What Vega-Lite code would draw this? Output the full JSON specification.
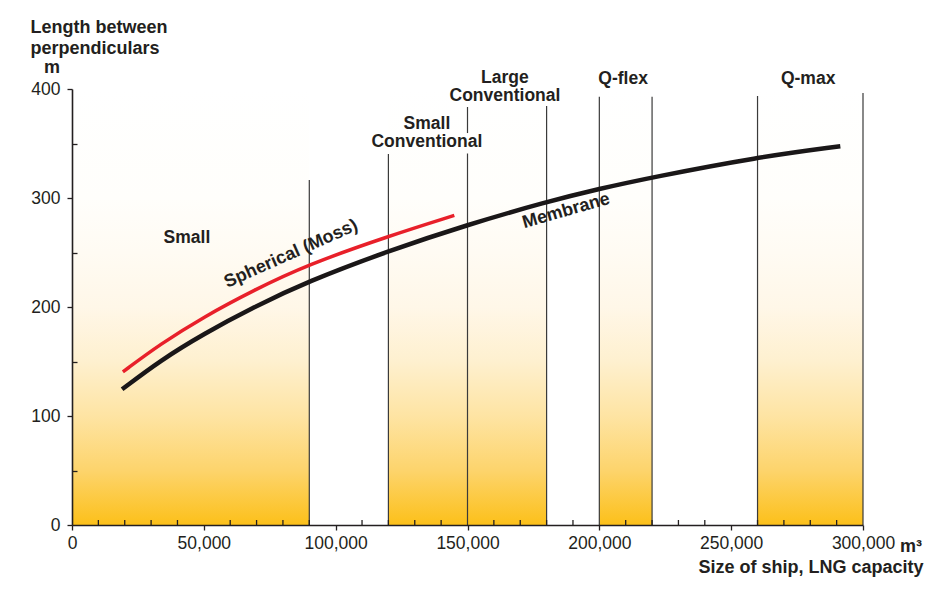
{
  "$schema": "https://vega.github.io/schema/vega-lite/v6.json",
  "width": 791,
  "height": 436,
  "autosize": {"type": "none"},
  "padding": {"left": 72, "top": 89, "right": 71, "bottom": 72},
  "background": "white",
  "config": {
    "view": {"stroke": null},
    "font": "Liberation Sans",
    "text": {"font": "Liberation Sans", "fontSize": 18, "fontWeight": "bold", "color": "#231f20"}
  },
  "datasets": {
    "bands": [
      {"start": 0, "end": 90000, "low": 0, "high": 400},
      {"start": 120000, "end": 180000, "low": 0, "high": 400},
      {"start": 200000, "end": 220000, "low": 0, "high": 400},
      {"start": 260000, "end": 300000, "low": 0, "high": 400}
    ],
    "dividers": [
      {"x": 90000, "bottom": 0, "top": 316.5},
      {"x": 120000, "bottom": 0, "top": 340.4},
      {"x": 150000, "bottom": 0, "top": 340.8},
      {"x": 150000, "bottom": 359.6, "top": 383.5},
      {"x": 180000, "bottom": 0, "top": 384.4},
      {"x": 200000, "bottom": 0, "top": 393},
      {"x": 220000, "bottom": 0, "top": 393},
      {"x": 260000, "bottom": 0, "top": 393.6},
      {"x": 300000, "bottom": 0, "top": 396.3}
    ],
    "minorTicks": [
      {"x": 10000, "y": 0}, {"x": 20000, "y": 0}, {"x": 30000, "y": 0}, {"x": 40000, "y": 0},
      {"x": 60000, "y": 0}, {"x": 70000, "y": 0}, {"x": 80000, "y": 0}, {"x": 90000, "y": 0},
      {"x": 110000, "y": 0}, {"x": 120000, "y": 0}, {"x": 130000, "y": 0}, {"x": 140000, "y": 0},
      {"x": 160000, "y": 0}, {"x": 170000, "y": 0}, {"x": 180000, "y": 0}, {"x": 190000, "y": 0},
      {"x": 210000, "y": 0}, {"x": 220000, "y": 0}, {"x": 230000, "y": 0}, {"x": 240000, "y": 0},
      {"x": 260000, "y": 0}, {"x": 270000, "y": 0}, {"x": 280000, "y": 0}, {"x": 290000, "y": 0}
    ],
    "curves": [
      {"series": "Membrane", "capacity": 19000, "length": 124.5},
      {"series": "Membrane", "capacity": 33500, "length": 151},
      {"series": "Membrane", "capacity": 50000, "length": 175.5},
      {"series": "Membrane", "capacity": 69000, "length": 200},
      {"series": "Membrane", "capacity": 89000, "length": 223},
      {"series": "Membrane", "capacity": 120000, "length": 251.5},
      {"series": "Membrane", "capacity": 150000, "length": 275.5},
      {"series": "Membrane", "capacity": 180000, "length": 296.5},
      {"series": "Membrane", "capacity": 200000, "length": 308.5},
      {"series": "Membrane", "capacity": 220000, "length": 319},
      {"series": "Membrane", "capacity": 260000, "length": 337.5},
      {"series": "Membrane", "capacity": 291400, "length": 347.5},
      {"series": "Spherical (Moss)", "capacity": 19300, "length": 140.5},
      {"series": "Spherical (Moss)", "capacity": 33500, "length": 166},
      {"series": "Spherical (Moss)", "capacity": 50000, "length": 191},
      {"series": "Spherical (Moss)", "capacity": 69000, "length": 215.5},
      {"series": "Spherical (Moss)", "capacity": 89000, "length": 238.5},
      {"series": "Spherical (Moss)", "capacity": 120000, "length": 265},
      {"series": "Spherical (Moss)", "capacity": 145000, "length": 284}
    ],
    "labels": [
      {"label": "Small", "x": 43600, "y": 258.7},
      {"label": "Small\nConventional", "x": 134600, "y": 363.3},
      {"label": "Large\nConventional", "x": 164200, "y": 405.5},
      {"label": "Q-flex", "x": 209000, "y": 404.6},
      {"label": "Q-max", "x": 279200, "y": 404.6}
    ]
  },
  "layer": [
    {
      "data": {"name": "bands"},
      "mark": {
        "type": "rect",
        "fill": {
          "gradient": "linear",
          "x1": 0, "y1": 1, "x2": 0, "y2": 0,
          "stops": [
            {"offset": 0, "color": "#fcc01a"},
            {"offset": 0.125, "color": "#fdd46c"},
            {"offset": 0.25, "color": "#fee4a3"},
            {"offset": 0.375, "color": "#fef0cf"},
            {"offset": 0.5, "color": "#fff7e8"},
            {"offset": 0.625, "color": "#fffbf3"},
            {"offset": 0.75, "color": "#fffefb"},
            {"offset": 1, "color": "#ffffff"}
          ]
        }
      },
      "encoding": {
        "x": {
          "field": "start", "type": "quantitative",
          "scale": {"domain": [0, 300000], "nice": false, "zero": true},
          "axis": {
            "zindex": 1,
            "title": "Size of ship, LNG capacity",
            "titleFont": "Liberation Sans",
            "titleFontSize": 18,
            "titleFontWeight": "bold",
            "titleColor": "#231f20",
            "titleAnchor": "end",
            "titleAlign": "right",
            "titleBaseline": "alphabetic",
            "titleX": 851,
            "titleY": 47,
            "values": [0, 50000, 100000, 150000, 200000, 250000, 300000],
            "format": ",d",
            "labelFont": "Liberation Sans",
            "labelFontSize": 17.5,
            "labelColor": "#231f20",
            "labelPadding": 4,
            "labelFlush": false,
            "labelOverlap": false,
            "labelBound": false,
            "tickSize": 5,
            "tickColor": "#231f20",
            "tickWidth": 1.3,
            "domainColor": "#231f20",
            "domainWidth": 1.6,
            "grid": false
          }
        },
        "x2": {"field": "end"},
        "y": {
          "field": "low", "type": "quantitative",
          "scale": {"domain": [0, 400], "nice": false},
          "axis": {
            "zindex": 1,
            "title": ["Length between", "perpendiculars"],
            "titleFont": "Liberation Sans",
            "titleFontSize": 18,
            "titleFontWeight": "bold",
            "titleColor": "#231f20",
            "titleAngle": 0,
            "titleAlign": "left",
            "titleBaseline": "alphabetic",
            "titleLineHeight": 21,
            "titleX": -42,
            "titleY": -57,
            "values": [0, 50, 100, 150, 200, 250, 300, 350, 400],
            "labelExpr": "datum.value % 100 === 0 ? datum.label : ''",
            "labelFont": "Liberation Sans",
            "labelFontSize": 17.5,
            "labelColor": "#231f20",
            "labelPadding": 7,
            "labelFlush": false,
            "labelOverlap": false,
            "tickSize": {"condition": {"test": "datum.value % 100 === 0", "value": 5}, "value": -5},
            "tickColor": "#231f20",
            "tickWidth": 1.3,
            "domainColor": "#231f20",
            "domainWidth": 1.6,
            "grid": false
          }
        },
        "y2": {"field": "high"}
      }
    },
    {
      "data": {"name": "dividers"},
      "mark": {"type": "rule", "color": "#3a3a3a", "strokeWidth": 1.2},
      "encoding": {
        "x": {"field": "x", "type": "quantitative"},
        "y": {"field": "bottom", "type": "quantitative"},
        "y2": {"field": "top"}
      }
    },
    {
      "data": {"name": "minorTicks"},
      "mark": {"type": "tick", "orient": "vertical", "size": 5, "thickness": 1.3, "color": "#231f20", "yOffset": -2.5, "opacity": 1},
      "encoding": {
        "x": {"field": "x", "type": "quantitative"},
        "y": {"field": "y", "type": "quantitative"}
      }
    },
    {
      "data": {"name": "curves"},
      "mark": {"type": "line", "interpolate": "basis", "strokeCap": "butt"},
      "encoding": {
        "x": {"field": "capacity", "type": "quantitative"},
        "y": {"field": "length", "type": "quantitative"},
        "color": {
          "field": "series", "type": "nominal",
          "scale": {"domain": ["Membrane", "Spherical (Moss)"], "range": ["#1a1718", "#e8202a"]},
          "legend": null
        },
        "strokeWidth": {
          "field": "series", "type": "nominal",
          "scale": {"domain": ["Membrane", "Spherical (Moss)"], "range": [4.5, 3.5]},
          "legend": null
        }
      }
    },
    {
      "data": {"name": "labels"},
      "mark": {"type": "text", "align": "center", "baseline": "alphabetic", "lineBreak": "\n", "lineHeight": 17.5, "fontSize": 17.5},
      "encoding": {
        "x": {"field": "x", "type": "quantitative"},
        "y": {"field": "y", "type": "quantitative"},
        "text": {"field": "label"}
      }
    },
    {
      "data": {"values": [{"label": "Spherical (Moss)", "x": 83100, "y": 248.6}]},
      "mark": {"type": "text", "align": "center", "baseline": "middle", "angle": 336},
      "encoding": {
        "x": {"field": "x", "type": "quantitative"},
        "y": {"field": "y", "type": "quantitative"},
        "text": {"field": "label"}
      }
    },
    {
      "data": {"values": [{"label": "Membrane", "x": 187400, "y": 288.1}]},
      "mark": {"type": "text", "align": "center", "baseline": "middle", "angle": 344},
      "encoding": {
        "x": {"field": "x", "type": "quantitative"},
        "y": {"field": "y", "type": "quantitative"},
        "text": {"field": "label"}
      }
    },
    {
      "data": {"values": [{"label": "m³", "x": 300000, "y": 0}]},
      "mark": {"type": "text", "align": "left", "baseline": "alphabetic", "dx": 37, "dy": 27},
      "encoding": {
        "x": {"field": "x", "type": "quantitative"},
        "y": {"field": "y", "type": "quantitative"},
        "text": {"field": "label"}
      }
    },
    {
      "data": {"values": [{"label": "m", "x": 0, "y": 400}]},
      "mark": {"type": "text", "align": "center", "baseline": "alphabetic", "dx": -20, "dy": -16},
      "encoding": {
        "x": {"field": "x", "type": "quantitative"},
        "y": {"field": "y", "type": "quantitative"},
        "text": {"field": "label"}
      }
    }
  ]
}
